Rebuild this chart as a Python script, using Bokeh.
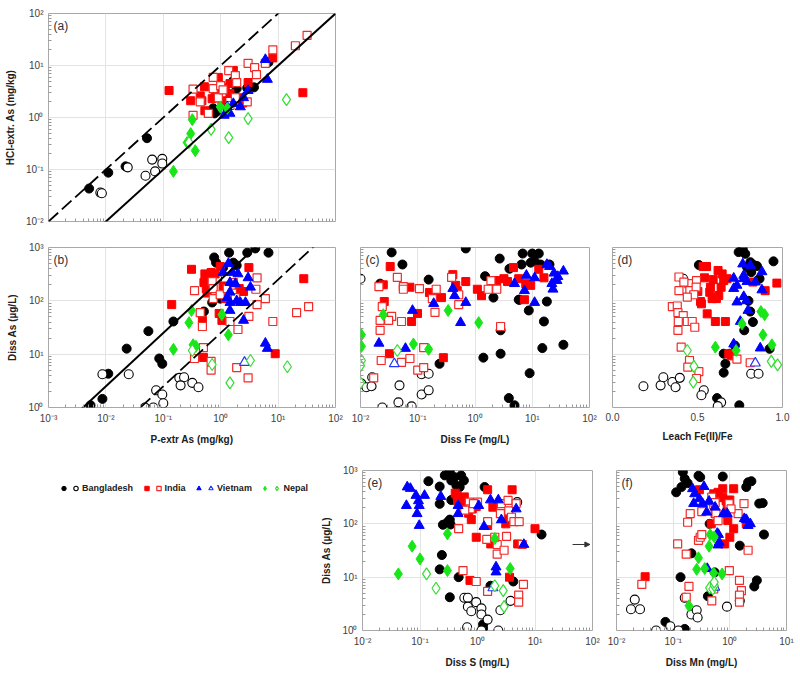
from bokeh.plotting import figure
from bokeh.layouts import column, row
from bokeh.models import (FixedTicker, CustomJSTickFormatter, Label, Legend, LegendItem,
                          Arrow, NormalHead, Range1d, NumeralTickFormatter)
from bokeh.embed import file_html
from bokeh.resources import INLINE

# ---------------- data ----------------
# Panel (a): P-extr As (mg/kg) vs HCl-extr As (mg/kg)
a_bgd_fill_x = [0.0051, 0.011, 0.022, 0.052, 0.74, 0.78, 0.85, 1.66, 1.9, 2.9, 3.8, 6.8]
a_bgd_fill_y = [0.043, 0.087, 0.115, 0.40, 1.5, 1.2, 1.3, 5.1, 3.6, 3.7, 3.8, 11.5]
a_bgd_open_x = [0.0080, 0.0085, 0.024, 0.049, 0.064, 0.072, 0.096, 0.096]
a_bgd_open_y = [0.036, 0.035, 0.11, 0.076, 0.155, 0.092, 0.16, 0.13]
a_ind_fill_x = [0.126, 0.30, 0.52, 0.44, 0.47, 0.53, 0.91, 0.80, 1.2, 1.45, 1.66, 2.2, 3.0, 2.4, 8.1, 27, 0.71, 1.05, 1.45]
a_ind_fill_y = [3.3, 2.1, 3.9, 2.6, 2.1, 1.35, 5.9, 3.3, 3.8, 2.9, 8.0, 2.4, 4.7, 1.9, 14, 3.0, 2.3, 2.1, 4.5]
a_ind_open_x = [0.33, 0.33, 0.44, 0.61, 0.74, 0.74, 0.91, 1.0, 1.38, 1.45, 1.8, 1.9, 1.8, 3.0, 2.9, 3.9, 4.2, 6.0, 8.1, 20, 32, 1.1]
a_ind_open_y = [1.1, 3.5, 2.0, 1.2, 5.9, 3.6, 2.4, 4.1, 8.0, 1.7, 6.4, 4.7, 2.4, 11, 2.0, 9.1, 6.7, 11, 20, 24, 38, 3.4]
a_vn_fill_x = [6.0, 6.5, 3.0, 2.5, 1.66, 1.45, 1.15, 1.3, 2.2]
a_vn_fill_y = [13, 5.4, 3.3, 2.4, 1.85, 1.2, 1.1, 1.6, 1.6]
a_vn_open_x = []
a_vn_open_y = []
a_np_fill_x = [0.32, 0.30, 0.26, 0.36, 0.15, 0.98, 1.3]
a_np_fill_y = [0.91, 0.49, 0.33, 0.23, 0.092, 1.6, 1.5]
a_np_open_x = [0.28, 0.68, 1.38, 3.0, 14]
a_np_open_y = [0.33, 0.59, 0.41, 0.95, 2.2]

# Panel (b): P-extr As (mg/kg) vs Diss As (ug/L)
b_bgd_fill_x = [0.0054, 0.0087, 0.011, 0.023, 0.055, 0.085, 0.096, 0.15, 0.51, 0.58, 0.65, 0.77, 0.83, 0.98, 1.1, 1.4, 1.66, 1.9, 2.9, 4.0, 6.8, 0.71]
b_bgd_fill_y = [1.1, 1.45, 4.3, 12.7, 27, 8.3, 6.6, 41, 63, 275, 220, 650, 520, 110, 420, 800, 520, 460, 800, 960, 800, 93]
b_bgd_open_x = [0.0087, 0.025, 0.048, 0.067, 0.075, 0.096, 0.10, 0.19, 0.23, 0.20, 0.32, 0.41, 0.87]
b_bgd_open_y = [4.2, 4.2, 1.0, 1.0, 2.1, 1.75, 1.2, 3.6, 3.7, 2.6, 2.9, 2.4, 260]
b_ind_fill_x = [0.14, 0.31, 0.48, 0.50, 0.53, 0.51, 0.56, 0.58, 0.94, 0.98, 1.05, 1.1, 1.2, 1.66, 2.1, 2.5, 3.1, 8.9, 28, 0.68, 0.80]
b_ind_fill_y = [85, 390, 43, 8.7, 320, 220, 170, 140, 58, 440, 43, 190, 110, 110, 170, 150, 420, 10.2, 260, 340, 320]
b_ind_open_x = [0.35, 0.44, 0.48, 0.50, 0.35, 0.71, 0.74, 0.74, 0.68, 0.68, 0.98, 1.3, 1.6, 1.66, 1.45, 1.8, 2.0, 1.9, 3.1, 3.0, 4.1, 4.3, 4.3, 6.0, 8.1, 21, 34]
b_ind_open_y = [155, 60, 33, 13.3, 8.3, 230, 170, 110, 7.3, 5.0, 130, 170, 140, 220, 41, 115, 29, 5.6, 51, 3.6, 165, 270, 85, 110, 41, 60, 78]
b_vn_fill_x = [1.36, 1.1, 1.6, 2.0, 3.0, 3.3, 1.45, 1.8, 1.45, 1.3, 1.45, 1.9, 2.2, 2.7, 1.45, 2.5, 6.0, 6.5]
b_vn_fill_y = [500, 340, 340, 320, 270, 180, 220, 210, 145, 115, 93, 100, 93, 93, 66, 43, 16, 12.8]
b_vn_open_x = [2.6]
b_vn_open_y = [7.0]
b_np_fill_x = [0.31, 0.28, 0.15, 0.33, 0.37, 1.05, 1.36]
b_np_fill_y = [66, 39, 12.3, 15, 14, 55, 23]
b_np_open_x = [0.32, 0.71, 1.45, 3.3, 14.5]
b_np_open_y = [11.7, 6.4, 2.9, 7.6, 5.8]

# Panel (c): Diss Fe (mg/L) vs Diss As (ug/L)
c_bgd_fill_x = [0.035, 0.054, 0.155, 0.69, 1.5, 2.1, 2.7, 4.0, 6.5, 6.8, 10, 13, 11, 9.4, 14, 20, 6.0, 8.7, 16, 18, 35, 15, 2.8, 2.8, 1.4, 9.0, 3.9, 4.9, 0.24, 5.8, 0.022]
c_bgd_fill_y = [810, 480, 250, 960, 290, 115, 620, 400, 480, 770, 770, 770, 550, 520, 480, 480, 105, 66, 41, 97, 15, 13, 10.2, 28, 8.6, 4.4, 1.5, 1.1, 6.6, 105, 210]
c_bgd_open_x = [0.010, 0.0104, 0.0127, 0.0156, 0.016, 0.024, 0.048, 0.046, 0.078, 0.117, 0.155, 0.117, 0.155]
c_bgd_open_y = [260, 2.8, 2.4, 2.5, 3.7, 1.0, 2.6, 1.25, 1.05, 1.75, 2.1, 4.2, 4.3]
c_ind_fill_x = [0.033, 0.025, 0.026, 0.073, 0.099, 0.078, 0.032, 0.16, 0.19, 0.26, 0.41, 0.46, 0.69, 0.28, 1.1, 1.3, 3.2, 4.7, 5.8, 7.3, 9.4, 13, 16, 2.4, 0.49, 3.7, 7.7]
c_ind_fill_y = [440, 200, 97, 180, 58, 41, 10.2, 143, 120, 115, 310, 195, 230, 8.6, 165, 125, 260, 420, 260, 105, 195, 390, 270, 240, 155, 230, 210]
c_ind_open_x = [0.044, 0.021, 0.056, 0.056, 0.107, 0.21, 0.18, 0.024, 0.035, 0.022, 0.031, 0.022, 0.052, 0.20, 0.39, 0.52, 0.52, 1.7, 2.4, 1.9, 2.8, 0.127, 0.052, 0.073, 0.023, 0.10, 0.127, 0.017]
c_ind_open_y = [275, 185, 185, 165, 170, 165, 110, 78, 51, 43, 43, 28, 41, 61, 275, 130, 85, 165, 165, 240, 33, 13.3, 7.0, 8.3, 7.6, 5.0, 5.6, 3.6]
c_vn_fill_x = [0.021, 0.061, 0.081, 0.19, 0.41, 0.44, 0.69, 0.56, 4.9, 7.3, 7.9, 11, 11, 18, 20, 24, 28, 35, 22, 27, 23]
c_vn_fill_y = [16, 12.8, 66, 89, 170, 125, 93, 39, 210, 155, 300, 270, 93, 480, 440, 330, 285, 360, 210, 240, 165]
c_vn_open_x = [0.039]
c_vn_open_y = [6.6]
c_np_fill_x = [0.0104, 0.0104, 0.025, 0.084, 0.155, 0.34, 1.16]
c_np_fill_y = [23, 14, 55, 15.5, 12.3, 66, 39]
c_np_open_x = [0.0104, 0.010, 0.010, 0.044]
c_np_open_y = [7.6, 6.1, 2.9, 11.7]

# Panel (d): Leach Fe(II)/Fe vs Diss As (ug/L)
d_bgd_fill_x = [0.766, 0.742, 0.781, 0.811, 0.830, 0.85, 0.791, 0.947, 0.508, 0.816, 0.865, 0.80, 0.81, 0.826, 0.775, 0.72, 0.654, 0.664, 0.654, 0.615, 0.746, 0.924, 0.69]
d_bgd_fill_y = [940, 820, 760, 530, 470, 450, 430, 550, 470, 345, 260, 100, 63, 40, 28, 14.5, 10.2, 6.6, 4.5, 1.5, 1.1, 12.6, 10.2]
d_bgd_open_x = [0.416, 0.182, 0.283, 0.299, 0.352, 0.371, 0.396, 0.537, 0.523, 0.639, 0.619, 0.816, 0.859]
d_bgd_open_y = [260, 2.5, 2.6, 3.7, 3.0, 2.4, 3.6, 2.1, 1.7, 1.25, 1.06, 4.3, 4.3]
d_ind_fill_x = [0.533, 0.553, 0.541, 0.502, 0.518, 0.523, 0.557, 0.605, 0.664, 0.592, 0.621, 0.645, 0.654, 0.639, 0.625, 0.576, 0.572, 0.586, 0.611, 0.60, 0.674, 0.826, 0.898, 0.967, 0.684, 0.697]
d_ind_fill_y = [440, 440, 270, 150, 97, 88, 57, 41, 41, 250, 370, 320, 240, 180, 126, 180, 145, 110, 110, 115, 260, 225, 155, 215, 10.2, 9.3]
d_ind_open_x = [0.391, 0.391, 0.352, 0.381, 0.385, 0.416, 0.387, 0.385, 0.44, 0.469, 0.484, 0.449, 0.455, 0.494, 0.492, 0.478, 0.44, 0.42, 0.404, 0.453, 0.443, 0.508, 0.494, 0.732, 0.81]
d_ind_open_y = [280, 155, 78, 80, 60, 53, 41, 28, 41, 41, 32, 210, 155, 240, 180, 130, 117, 225, 13.5, 7.6, 5.7, 4.7, 3.5, 8.1, 6.9]
d_vn_fill_x = [0.766, 0.811, 0.879, 0.772, 0.713, 0.772, 0.791, 0.732, 0.713, 0.84, 0.879, 0.772, 0.787, 0.732, 0.752, 0.797, 0.713, 0.869]
d_vn_fill_y = [490, 460, 350, 300, 265, 260, 230, 195, 170, 225, 160, 120, 100, 95, 41, 66, 15.5, 13]
d_vn_open_x = [0.84]
d_vn_open_y = [6.8]
d_np_fill_x = [0.873, 0.895, 0.762, 0.885, 0.605, 0.727, 0.9375]
d_np_fill_y = [63, 55, 37, 23, 13.5, 11.7, 15]
d_np_open_x = [0.44, 0.479, 0.475, 0.934, 0.971]
d_np_open_y = [11.7, 5.9, 3.0, 7.3, 6.3]

# Panel (e): Diss S (mg/L) vs Diss As (ug/L)
e_bgd_fill_x = [0.14, 0.27, 0.33, 0.40, 0.52, 0.35, 0.43, 0.49, 0.22, 0.22, 0.35, 0.30, 0.33, 0.34, 0.25, 0.24, 0.22, 0.47, 0.33, 1.33, 1.25, 1.25, 1.68, 4.2, 13, 0.58]
e_bgd_fill_y = [630, 810, 930, 750, 810, 650, 520, 490, 500, 237, 280, 107, 120, 97, 96, 26, 14, 10, 4.2, 490, 1.3, 1.1, 6.9, 8.3, 63, 650]
e_bgd_open_x = [4.9, 0.59, 0.68, 0.68, 0.78, 0.95, 1.17, 1.17, 1.5, 2.5, 3.75, 0.66, 1.17, 2.3]
e_bgd_open_y = [255, 4.1, 4.1, 2.8, 2.3, 3.4, 2.6, 2.0, 1.6, 2.4, 3.6, 1.15, 1.0, 1.0]
e_ind_fill_x = [0.41, 0.44, 0.45, 0.59, 0.55, 0.65, 0.70, 0.81, 0.95, 0.78, 1.5, 4.0, 1.85, 1.5, 1.7, 0.95, 3.1, 5.0, 10, 3.6, 0.74, 3.0]
e_ind_fill_y = [375, 340, 270, 320, 220, 200, 158, 190, 210, 120, 435, 435, 205, 93, 42, 56, 100, 42, 81, 10, 8.7, 130]
e_ind_open_x = [0.47, 0.72, 0.75, 0.6, 1.0, 0.85, 1.5, 2.6, 2.5, 3.4, 3.5, 3.9, 4.3, 5.3, 4.7, 3.2, 2.2, 2.2, 2.9, 1.45, 6.0, 6.3, 5.2, 5.2, 1.5, 0.56, 0.95, 2.0]
e_ind_open_y = [81, 255, 190, 180, 255, 240, 110, 240, 155, 275, 175, 133, 110, 110, 240, 58, 41, 27, 32, 51, 41, 7.3, 4.6, 3.4, 5.4, 13.3, 8.3, 56]
e_vn_fill_x = [0.060, 0.068, 0.058, 0.085, 0.12, 0.094, 0.097, 0.089, 0.097, 0.23, 0.46, 0.46, 1.05, 1.68, 2.3, 1.3, 2.6, 2.1, 2.1, 6.4, 4.7]
e_vn_fill_y = [490, 460, 220, 340, 340, 270, 220, 155, 93, 325, 220, 155, 220, 280, 280, 89, 119, 15.5, 12.5, 41, 190]
e_vn_open_x = [1.85]
e_vn_open_y = [6.3]
e_np_fill_x = [0.042, 0.073, 0.10, 0.30, 0.30, 2.0, 3.7]
e_np_fill_y = [11.5, 38, 22, 65, 13.3, 53, 14.5]
e_np_open_x = [0.13, 0.19, 2.0, 2.8, 2.9]
e_np_open_y = [11.5, 6.2, 6.9, 5.6, 2.8]

# Panel (f): Diss Mn (mg/L) vs Diss As (ug/L)
f_bgd_fill_x = [0.148, 0.16, 0.18, 0.28, 0.30, 0.113, 0.14, 0.75, 2.1, 2.4, 1.95, 3.3, 3.8, 4.0, 1.5, 0.135, 3.0, 2.7, 0.41, 0.073, 0.16, 0.44, 0.21, 0.54]
f_bgd_fill_y = [930, 700, 580, 800, 750, 390, 490, 770, 600, 630, 490, 240, 245, 63, 39, 10, 8.7, 6.7, 4.4, 1.45, 1.07, 100, 28, 12.3]
f_bgd_open_x = [0.021, 0.018, 0.026, 0.050, 0.089, 0.124, 0.16, 0.21, 0.26, 0.27, 0.47, 0.89, 1.5]
f_bgd_open_y = [3.8, 2.5, 2.5, 1.0, 1.2, 1.0, 4.1, 2.0, 2.4, 1.75, 265, 2.8, 3.6]
f_ind_fill_x = [0.032, 0.29, 0.52, 0.75, 0.86, 1.0, 1.17, 0.9, 0.86, 0.92, 1.17, 1.0, 0.81, 0.47, 0.55, 1.95, 0.75, 0.62]
f_ind_fill_y = [10.2, 435, 365, 310, 270, 280, 455, 220, 155, 115, 81, 56, 42, 100, 155, 100, 455, 390]
f_ind_open_x = [0.028, 0.12, 0.17, 0.18, 0.20, 0.32, 0.28, 0.30, 0.32, 0.48, 0.52, 0.57, 0.62, 0.55, 0.97, 1.4, 1.78, 1.05, 0.98, 1.48, 1.6, 1.48, 1.48, 2.1, 0.48, 0.19, 0.17, 0.52]
f_ind_open_y = [7.3, 42, 27, 107, 155, 170, 49, 56, 63, 316, 230, 155, 115, 250, 240, 155, 240, 190, 13.3, 8.7, 5.6, 4.6, 3.4, 32, 3.6, 6.7, 4.2, 6.0]
f_vn_fill_x = [0.22, 0.35, 0.24, 0.23, 0.29, 0.33, 0.43, 0.39, 0.55, 1.8, 2.1, 0.6, 0.65, 1.95, 2.3, 0.63, 0.62, 0.40, 0.9, 0.77]
f_vn_fill_y = [455, 500, 365, 240, 295, 240, 265, 165, 205, 125, 93, 66, 45, 120, 100, 63, 40, 14.5, 155, 155]
f_vn_open_x = [0.54]
f_vn_open_y = [6.5]
f_np_fill_x = [0.45, 0.53, 0.43, 0.28, 0.26, 0.36, 0.52, 0.73, 0.19]
f_np_fill_y = [63, 57, 38, 23, 14, 14.5, 12, 11.5, 2.9]
f_np_open_x = [0.44, 0.50, 0.53, 0.53]
f_np_open_y = [6.3, 6.0, 7.0, 8.1]

# reference lines: ratios y/x
a_solid_ratio = 1.0       # 1:1 line
a_dash_ratio = 10.0       # 10:1 line
b_solid_ratio = 250.0     # ug/L per mg/kg
b_dash_ratio = 25.0

countries = ["Bangladesh", "India", "Vietnam", "Nepal"]
decades = [1e-3, 1e-2, 1e-1, 1e0, 1e1, 1e2, 1e3]

# ---------------- style ----------------
FONT = "Liberation Sans"
GRID = "#e3e3e3"
FRAME = "#a8a8a8"
STY = {
    "bgd_fill": dict(marker="circle", size=9, fill_color="black", line_color="black"),
    "bgd_open": dict(marker="circle", size=9, fill_color="white", line_color="black", line_width=1.1),
    "ind_fill": dict(marker="square", size=8, fill_color="#ff0000", line_color="#ff0000"),
    "ind_open": dict(marker="square", size=8, fill_color="white", line_color="#f22a2a", line_width=1.2),
    "vn_fill": dict(marker="triangle", size=10, fill_color="#0000ff", line_color="#0000ff"),
    "vn_open": dict(marker="triangle", size=10, fill_color="white", line_color="#2233ff", line_width=1.2),
    "np_fill": dict(marker="diamond", size=12, fill_color="#19e619", line_color="#19e619"),
    "np_open": dict(marker="diamond", size=12, fill_color="white", line_color="#33dd33", line_width=1.2),
}
ORDER = ["bgd_fill", "bgd_open", "ind_fill", "ind_open", "vn_fill", "vn_open", "np_fill", "np_open"]

SUP = CustomJSTickFormatter(code="""
const s = {'-':'\u207b','0':'\u2070','1':'\u00b9','2':'\u00b2','3':'\u00b3','4':'\u2074',
           '5':'\u2075','6':'\u2076','7':'\u2077','8':'\u2078','9':'\u2079'};
const e = Math.round(Math.log10(tick));
return '10' + String(e).split('').map(c => s[c]).join('');
""")
BLANK = CustomJSTickFormatter(code="return '';")


def log_ticker(lo, hi):
    ticks = [d for d in decades if lo <= d <= hi]
    minors = [d * k for d in decades for k in range(2, 10) if lo < d * k < hi]
    return FixedTicker(ticks=ticks, minor_ticks=minors)


def make_panel(xr, yr, xlog, fw, fh, ml, mr, mt, mb, xlabel, ylabel, show_x, show_y, letter, data):
    p = figure(x_axis_type="log" if xlog else "linear", y_axis_type="log",
               x_range=Range1d(*xr), y_range=Range1d(*yr),
               frame_width=fw, frame_height=fh,
               min_border_left=ml, min_border_right=mr, min_border_top=mt, min_border_bottom=mb,
               output_backend="svg", toolbar_location=None)
    p.outline_line_color = FRAME
    p.outline_line_width = 1
    p.background_fill_color = "white"
    p.border_fill_color = "white"
    if xlog:
        p.xaxis.ticker = log_ticker(*xr)
        p.xaxis.formatter = SUP if show_x else BLANK
    else:
        p.xaxis.ticker = FixedTicker(ticks=[0.0, 0.5, 1.0], minor_ticks=[])
        p.xaxis.formatter = NumeralTickFormatter(format="0.0")
        p.xgrid.visible = False
    p.yaxis.ticker = log_ticker(*yr)
    p.yaxis.formatter = SUP if show_y else BLANK
    for ax in (p.xaxis[0], p.yaxis[0]):
        ax.axis_line_color = None
        ax.major_tick_out = 0
        ax.major_tick_in = 0
        ax.minor_tick_out = 0
        ax.minor_tick_in = 3
        ax.minor_tick_line_color = "#9a9a9a"
        ax.major_label_text_font = FONT
        ax.major_label_text_font_size = "10px"
        ax.major_label_text_color = "#404040"
        ax.major_label_standoff = 5
        ax.axis_label_text_font = FONT
        ax.axis_label_text_font_size = "10px"
        ax.axis_label_text_font_style = "bold"
        ax.axis_label_text_color = "#202020"
        ax.axis_label_standoff = 7
    if not show_x:
        p.xaxis.major_label_standoff = 0
    if not show_y:
        p.yaxis.major_label_standoff = 0
    if xlabel:
        p.xaxis.axis_label = xlabel
    if ylabel:
        p.yaxis.axis_label = ylabel
    p.grid.grid_line_color = GRID
    p.grid.grid_line_width = 1
    p.grid.minor_grid_line_color = None
    for key, (xs, ys) in zip(ORDER, data):
        if len(xs):
            p.scatter(x=xs, y=ys, **STY[key])
    p.add_layout(Label(x=xr[0], y=yr[1], x_offset=5, y_offset=-5, text=letter,
                       text_baseline="top", text_font=FONT, text_font_size="12px",
                       text_color="#303030"))
    return p


def series(prefix):
    g = globals()
    out = []
    for key in ORDER:
        c, kind = key.split("_")
        out.append((g[f"{prefix}_{c}_{kind}_x"], g[f"{prefix}_{c}_{kind}_y"]))
    return out


# ---------------- panels ----------------
fa = make_panel((1e-3, 1e2), (1e-2, 1e2), True, 287, 208, 48, 10, 13, 13,
                None, "HCl-extr. As (mg/kg)", False, True, "(a)", series("a"))
ref_x = [1e-3, 1e2]
fa.line(x=ref_x, y=[v * a_solid_ratio for v in ref_x], line_color="black", line_width=2)
fa.line(x=ref_x, y=[v * a_dash_ratio for v in ref_x], line_color="black", line_width=1.8,
        line_dash="13 5")

fb = make_panel((1e-3, 1e2), (1, 1e3), True, 287, 160, 48, 10, 13, 45,
                "P-extr As (mg/kg)", "Diss As (\u00b5g/L)", True, True, "(b)", series("b"))
fb.line(x=ref_x, y=[v * b_solid_ratio for v in ref_x], line_color="black", line_width=2)
fb.line(x=ref_x, y=[v * b_dash_ratio for v in ref_x], line_color="black", line_width=1.8,
        line_dash="13 5")

fc = make_panel((1e-2, 1e2), (1, 1e3), True, 229, 160, 15, 10, 13, 45,
                "Diss Fe (mg/L)", None, True, False, "(c)", series("c"))
fd = make_panel((0.0, 1.0), (1, 1e3), False, 170, 160, 13, 10, 13, 45,
                "Leach Fe(II)/Fe", None, True, False, "(d)", series("d"))
fe = make_panel((1e-2, 1e2), (1, 1e3), True, 230, 160, 40, 10, 18, 35,
                "Diss S (mg/L)", "Diss As (\u00b5g/L)", True, True, "(e)", series("e"))
fe.add_layout(Arrow(end=NormalHead(size=5, fill_color="#333333", line_color="#333333"),
                    x_start=45, y_start=41, x_end=90, y_end=41,
                    line_color="#333333", line_width=1))
ff = make_panel((1e-2, 1e1), (1, 1e3), True, 170, 160, 14, 10, 18, 35,
                "Diss Mn (mg/L)", None, True, False, "(f)", series("f"))

# ---------------- legend panel ----------------
fl = figure(width=318, height=213, x_range=(0, 1), y_range=(0, 1),
            x_axis_location=None, y_axis_location=None, min_border=0,
            output_backend="svg", toolbar_location=None)
fl.outline_line_color = None
fl.grid.visible = False
items = []
gap = "   "
for i, c in enumerate(["bgd", "ind", "vn", "np"]):
    # legend-only renderers, placed outside the visible range
    r1 = fl.scatter(x=[-5], y=[-5], **STY[f"{c}_fill"])
    r2 = fl.scatter(x=[-5], y=[-5], **STY[f"{c}_open"])
    items.append(LegendItem(label="", renderers=[r1]))
    items.append(LegendItem(label=countries[i] + (gap if i < 3 else ""), renderers=[r2]))
leg = Legend(items=items, orientation="horizontal", location=(58, 131),
             glyph_width=11, glyph_height=12, label_standoff=1, label_width=0,
             label_height=12, spacing=0, padding=0, margin=0,
             border_line_color=None, background_fill_alpha=0,
             label_text_font=FONT, label_text_font_size="9px",
             label_text_font_style="bold", label_text_color="#202020")
fl.add_layout(leg)

layout = column(row(fa), row(fb, fc, fd), row(fl, fe, ff))
open("out.html", "w").write(file_html(layout, INLINE))
